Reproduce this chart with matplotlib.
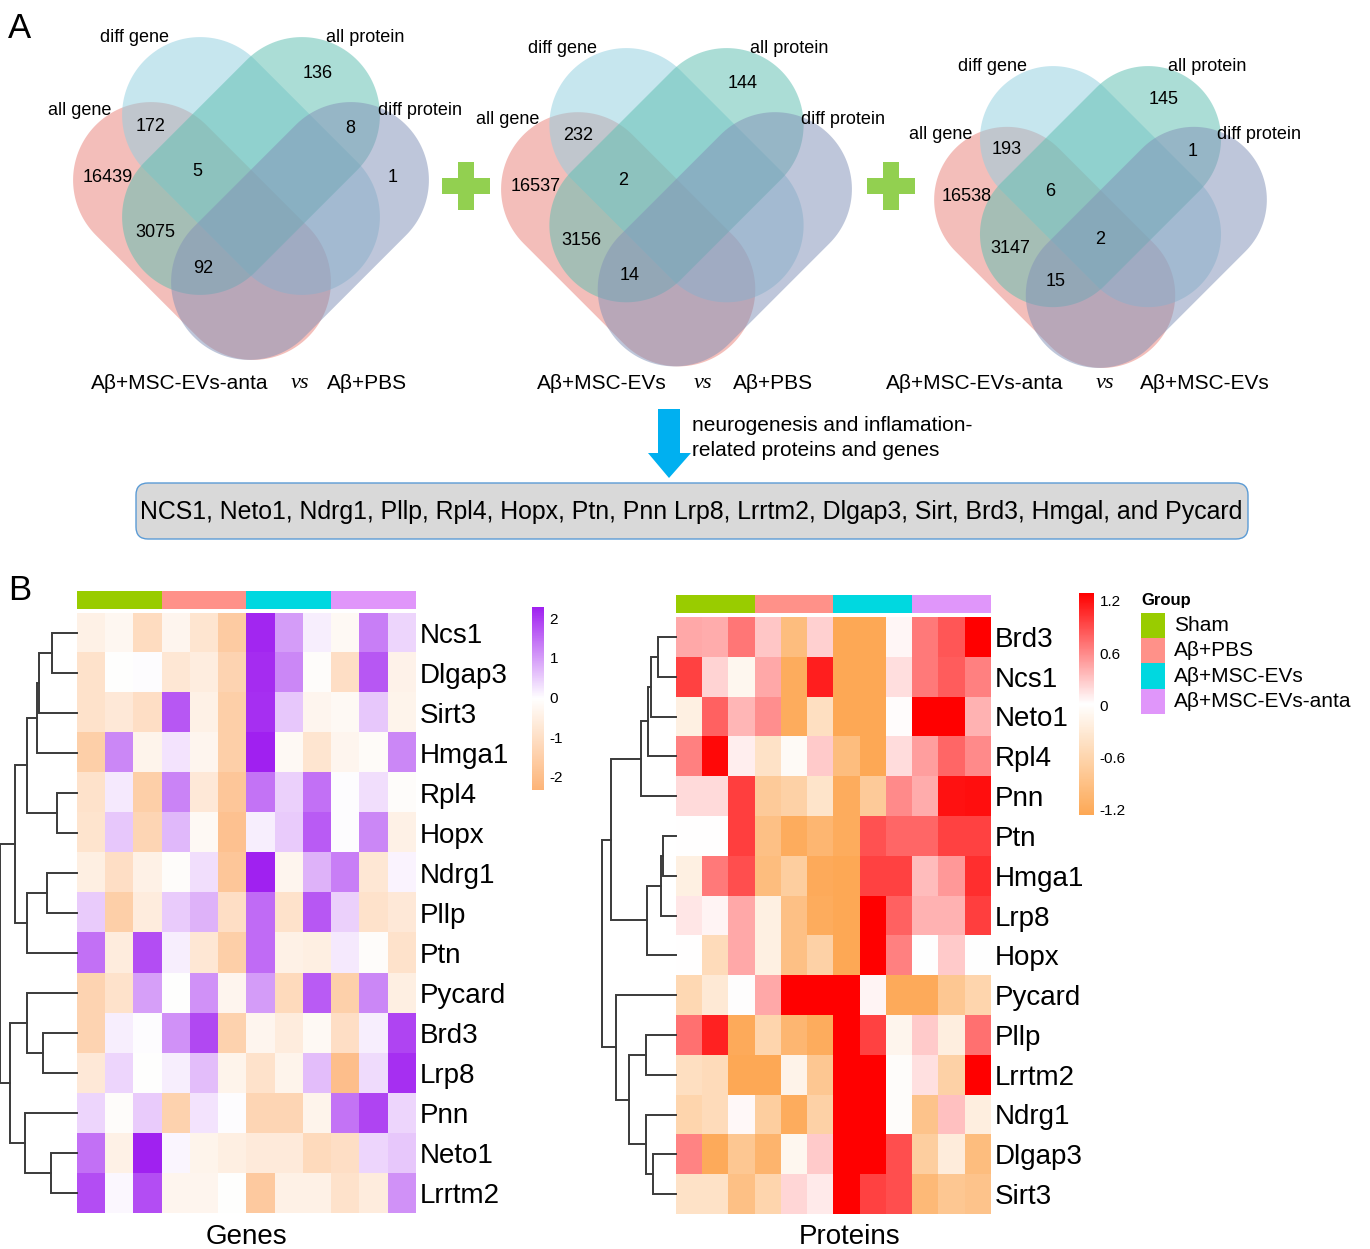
import numpy as np
import matplotlib
matplotlib.use("Agg")
import matplotlib.pyplot as plt
from matplotlib.patches import Polygon, Rectangle, FancyBboxPatch
from matplotlib.colors import LinearSegmentedColormap, ListedColormap, Normalize
from matplotlib.cm import ScalarMappable

plt.rcParams['font.family'] = ['Liberation Sans', 'DejaVu Sans']
plt.rcParams['axes.unicode_minus'] = False

# ---- data ----
set_names = ["all gene", "diff gene", "all protein", "diff protein"]
venn_left = ["Aβ+MSC-EVs-anta", "Aβ+MSC-EVs", "Aβ+MSC-EVs-anta"]
venn_right = ["Aβ+PBS", "Aβ+PBS", "Aβ+MSC-EVs"]
# region keys: A=all gene, B=diff gene, C=all protein, D=diff protein
venn1_counts = {"A": 16439, "AB": 172, "C": 136, "CD": 8, "D": 1,
                "ABC": 5, "AC": 3075, "ACD": 92}
venn2_counts = {"A": 16537, "AB": 232, "C": 144, "ABC": 2,
                "AC": 3156, "ACD": 14}
venn3_counts = {"A": 16538, "AB": 193, "C": 145, "CD": 1, "ABC": 6,
                "ABCD": 2, "AC": 3147, "ACD": 15}

arrow_note = "neurogenesis and inflamation-\nrelated proteins and genes"
gene_list = ("NCS1, Neto1, Ndrg1, Pllp, Rpl4, Hopx, Ptn, Pnn Lrp8, Lrrtm2, "
             "Dlgap3, Sirt, Brd3, Hmgal, and Pycard")

groups = ["Sham", "Aβ+PBS", "Aβ+MSC-EVs", "Aβ+MSC-EVs-anta"]
sample_group = [0, 0, 0, 1, 1, 1, 2, 2, 2, 3, 3, 3]

gene_names = ["Ncs1", "Dlgap3", "Sirt3", "Hmga1", "Rpl4", "Hopx", "Ndrg1", "Pllp",
              "Ptn", "Pycard", "Brd3", "Lrp8", "Pnn", "Neto1", "Lrrtm2"]
gene_vals = [
    [-0.45, -0.25, -1.1, -0.3, -0.8, -1.6, 2.2, 1.0, 0.15, -0.2, 1.3, 0.4],
    [-0.9, -0.05, 0.0, -0.75, -0.55, -1.35, 2.15, 1.2, -0.1, -1.0, 1.7, -0.4],
    [-0.9, -0.7, -1.0, 1.7, -0.45, -1.5, 2.1, 0.55, -0.3, -0.2, 0.55, -0.35],
    [-1.5, 1.2, -0.35, 0.25, -0.3, -1.5, 2.28, -0.2, -0.8, -0.3, -0.15, 1.2],
    [-0.9, 0.2, -1.5, 1.25, -0.7, -1.75, 1.4, 0.45, 1.45, 0.0, 0.3, -0.1],
    [-0.85, 0.55, -1.3, 0.7, -0.2, -1.9, 0.15, 0.5, 1.65, 0.0, 1.2, -0.45],
    [-0.5, -1.0, -0.45, -0.1, 0.3, -1.75, 2.25, -0.3, 0.75, 1.3, -0.75, 0.1],
    [0.5, -1.5, -0.6, 0.5, 0.75, -1.0, 1.5, -0.9, 1.7, 0.45, -0.9, -0.7],
    [1.45, -0.6, 1.8, 0.15, -0.75, -1.5, 1.5, -0.45, -0.5, 0.2, -0.1, -0.9],
    [-1.35, -0.9, 0.95, -0.05, 1.1, -0.3, 1.0, -1.15, 1.65, -1.45, 1.2, -0.5],
    [-1.35, 0.15, 0.0, 1.1, 1.85, -1.4, -0.3, -0.6, -0.2, -1.0, 0.15, 1.9],
    [-0.7, 0.4, -0.05, 0.15, 0.65, -0.35, -0.9, -0.35, 0.65, -2.0, 0.35, 2.1],
    [0.4, -0.1, 0.5, -1.4, 0.25, 0.0, -1.3, -1.3, -0.35, 1.4, 1.9, 0.4],
    [1.45, -0.45, 2.25, 0.08, -0.35, -0.5, -0.65, -0.65, -1.15, -1.0, 0.4, 0.55],
    [1.8, 0.05, 1.8, -0.3, -0.3, -0.05, -1.65, -0.45, -0.45, -0.9, -0.6, 1.1],
]
# merges: (node, node, height); leaves are rows, new nodes numbered from 15
gene_tree = [(0, 1, 25), (15, 2, 38), (16, 3, 40), (4, 5, 20), (17, 18, 50),
             (6, 7, 30), (20, 8, 50), (19, 21, 62), (10, 11, 34), (9, 23, 50),
             (13, 14, 26), (12, 25, 52), (24, 26, 67), (22, 27, 77)]

prot_names = ["Brd3", "Ncs1", "Neto1", "Rpl4", "Pnn", "Ptn", "Hmga1", "Lrp8",
              "Hopx", "Pycard", "Pllp", "Lrrtm2", "Ndrg1", "Dlgap3", "Sirt3"]
prot_vals = [
    [0.45, 0.43, 0.7, 0.3, -0.95, 0.25, -1.26, -1.26, 0.06, 0.68, 0.86, 1.3],
    [0.96, 0.23, -0.1, 0.45, -1.2, 1.14, -1.26, -1.26, 0.18, 0.68, 0.83, 0.65],
    [-0.2, 0.8, 0.38, 0.58, -1.2, -0.45, -1.26, -1.26, 0.03, 1.3, 1.3, 0.4],
    [0.65, 1.25, 0.1, -0.4, -0.05, 0.28, -0.95, -1.26, 0.19, 0.5, 0.78, 0.6],
    [0.2, 0.2, 0.98, -0.75, -0.65, -0.38, -1.2, -0.75, 0.6, 0.43, 1.2, 1.22],
    [0.02, 0.02, 0.98, -0.9, -1.2, -1.05, -1.2, 0.88, 0.78, 0.78, 0.96, 0.96],
    [-0.2, 0.68, 0.9, -0.95, -0.7, -1.22, -1.26, 0.96, 0.96, 0.35, 0.53, 1.06],
    [0.14, 0.07, 0.45, -0.2, -0.9, -1.2, -1.26, 1.3, 0.8, 0.4, 0.4, 0.98],
    [0.02, -0.5, 0.45, -0.2, -0.9, -0.65, -1.26, 1.3, 0.65, 0.01, 0.28, 0.01],
    [-0.55, -0.3, 0.0, 0.45, 1.3, 1.3, 1.3, 0.07, -1.22, -1.22, -0.8, -0.6],
    [0.73, 1.12, -1.22, -0.6, -1.05, -1.2, 1.3, 0.96, -0.12, 0.28, -0.22, 0.73],
    [-0.45, -0.5, -1.26, -1.26, -0.15, -0.8, 1.3, 1.3, -0.02, 0.17, -0.65, 1.3],
    [-0.6, -0.5, 0.05, -0.7, -1.2, -0.65, 1.3, 1.3, -0.02, -0.85, 0.33, -0.22],
    [0.63, -1.22, -0.8, -1.08, -0.1, 0.28, 1.3, 1.3, 0.9, -0.7, -0.25, -0.95],
    [-0.4, -0.4, -0.9, -0.6, 0.22, 0.12, 1.3, 0.96, 0.9, -1.0, -0.8, -0.85],
]
prot_tree = [(0, 1, 18), (15, 2, 25), (16, 3, 28), (17, 4, 35), (5, 6, 13),
             (19, 7, 15), (20, 8, 29), (18, 21, 65), (10, 11, 30), (13, 14, 23),
             (12, 24, 30), (23, 25, 47), (9, 26, 60), (22, 27, 74)]

# ---- layout / style ----
W, H = 1370, 1249
fig = plt.figure(figsize=(W / 100, H / 100), dpi=100)
over = fig.add_axes([0, 0, 1, 1])
over.set_xlim(0, W)
over.set_ylim(H, 0)
over.axis('off')


def px_axes(x0, y0, x1, y1):
    return fig.add_axes([x0 / W, 1 - y1 / H, (x1 - x0) / W, (y1 - y0) / H])


def stadium(cx, cy, ang, d, r, n=80):
    t1 = np.linspace(-np.pi / 2, np.pi / 2, n)
    t2 = np.linspace(np.pi / 2, 3 * np.pi / 2, n)
    x = np.concatenate([d + r * np.cos(t1), -d + r * np.cos(t2)])
    y = np.concatenate([r * np.sin(t1), r * np.sin(t2)])
    c, s = np.cos(ang), np.sin(ang)
    return np.column_stack([cx + x * c - y * s, cy + x * s + y * c])


# shapes: (dx, dy, angle, colour) relative to diagram centre/top, scale 1
shapes = [(-49, 194, np.pi / 4, "#E8837B"),    # all gene
          (0, 129, np.pi / 4, "#92CFE0"),      # diff gene
          (0, 129, -np.pi / 4, "#5FBFB2"),     # all protein
          (49, 194, -np.pi / 4, "#8393B8")]    # diff protein
label_pos = [(-171, 73), (-116, 0), (114, 0), (169, 73)]
region_pos = {"C": (67, 36), "AB": (-100, 89), "CD": (99, 91), "A": (-143, 140),
              "ABC": (-54, 134), "D": (142, 140), "AC": (-96, 195),
              "ACD": (-48, 231), "ABCD": (0, 186)}
venn_place = [(251, 37, 1.0), (676.5, 48, 0.986), (1100.5, 66, 0.935)]
title_x = [(180, 300, 367), (602, 703, 773), (975, 1105, 1205)]

for (cx, top, sc), counts, lt, rt, tx in zip(
        venn_place, [venn1_counts, venn2_counts, venn3_counts],
        venn_left, venn_right, title_x):
    for dx, dy, ang, col in shapes:
        pts = stadium(cx + dx * sc, top + dy * sc, ang, 72 * sc, 78 * sc)
        over.add_patch(Polygon(pts, closed=True, facecolor=col, edgecolor='none',
                               alpha=0.52))
    for name, (lx, ly) in zip(set_names, label_pos):
        over.text(cx + lx * sc, top + ly * sc, name, fontsize=13,
                  ha='center', va='center')
    for key, val in counts.items():
        rx, ry = region_pos[key]
        over.text(cx + rx * sc, top + ry * sc, str(val), fontsize=13,
                  ha='center', va='center')
    over.text(tx[0], 383, lt, fontsize=15, ha='center', va='center')
    over.text(tx[1], 383, "vs", fontsize=16, ha='center', va='center',
              family='Liberation Serif', style='italic')
    over.text(tx[2], 383, rt, fontsize=15, ha='center', va='center')

# green plus signs
for px in (466, 891):
    over.add_patch(Rectangle((px - 24, 178), 48, 16, color='#92D050', lw=0))
    over.add_patch(Rectangle((px - 8, 162), 16, 48, color='#92D050', lw=0))

# blue arrow and note
arrow = [(658, 409), (680, 409), (680, 453), (691, 453), (669, 478),
         (648, 453), (658, 453)]
over.add_patch(Polygon(arrow, closed=True, color='#00B0F0', lw=0))
over.text(692, 438, arrow_note, fontsize=15, ha='left', va='center',
          linespacing=1.42)

box = FancyBboxPatch((136, 483), 1112, 56, boxstyle="round,pad=0,rounding_size=12",
                     facecolor='#D9D9D9', edgecolor='#5B9BD5', lw=1.0)
over.add_patch(box)
over.text(691, 512, gene_list, fontsize=17.9, ha='center', va='center')

over.text(8, 38, "A", fontsize=25, ha='left', va='baseline')
over.text(8, 600, "B", fontsize=25, ha='left', va='baseline')

# ---- heatmaps ----
group_colors = ['#99CC00', '#FF9189', '#00D8E0', '#E096FA']
gcmap = LinearSegmentedColormap.from_list('g', ['#FDB478', '#FFFFFF', '#A020F0'])
gnorm = Normalize(-2.33, 2.28)
pcmap = LinearSegmentedColormap.from_list('p', ['#FDA855', '#FFFFFF', '#FF0000'])
pnorm = Normalize(-1.26, 1.29)


def draw_dendro(ax, n, merges, xmax):
    pos = {i: (float(i), 0.0) for i in range(n)}
    for k, (a, b, h) in enumerate(merges):
        ya, ha = pos[a]
        yb, hb = pos[b]
        ax.plot([ha, h, h, hb], [ya, ya, yb, yb], color='#3a3a3a', lw=1.4,
                clip_on=False, solid_joinstyle='miter')
        pos[n + k] = ((ya + yb) / 2, h)
    ax.set_xlim(xmax, 0)
    ax.set_ylim(n - 0.5, -0.5)
    ax.axis('off')


def draw_heat(box, bar_box, dendro_box, vals, names, cmap, norm, tree, dmax):
    ax = px_axes(*box)
    ax.imshow(np.array(vals), cmap=cmap, norm=norm, aspect='auto',
              interpolation='nearest')
    ax.set_xticks([])
    ax.set_yticks(range(len(names)))
    ax.set_yticklabels(names, fontsize=20)
    ax.yaxis.tick_right()
    ax.tick_params(length=0, pad=3)
    for s in ax.spines.values():
        s.set_visible(False)
    bx = px_axes(*bar_box)
    bx.imshow([sample_group], cmap=ListedColormap(group_colors), aspect='auto',
              interpolation='nearest', vmin=-0.5, vmax=3.5)
    bx.axis('off')
    dx = px_axes(*dendro_box)
    draw_dendro(dx, len(names), tree, dmax)


draw_heat((76.5, 612.5, 415.5, 1213.5), (76.5, 591, 415.5, 609),
          (0, 612.5, 76.5, 1213.5), gene_vals, gene_names, gcmap, gnorm,
          gene_tree, 77)
draw_heat((676, 617, 991, 1214), (676, 595, 991, 613),
          (590, 617, 676, 1214), prot_vals, prot_names, pcmap, pnorm,
          prot_tree, 86)

over.text(246, 1244, "Genes", fontsize=20, ha='center', va='baseline')
over.text(850, 1244, "Proteins", fontsize=20, ha='center', va='baseline')


def draw_cbar(box, cmap, norm, ticks, labels):
    cax = px_axes(*box)
    cb = fig.colorbar(ScalarMappable(norm=norm, cmap=cmap), cax=cax, ticks=ticks)
    cb.outline.set_visible(False)
    cb.set_ticklabels(labels)
    cax.tick_params(length=0, labelsize=11, pad=4)


draw_cbar((532, 607, 544, 790), gcmap, gnorm, [-2, -1, 0, 1, 2],
          ["-2", "-1", "0", "1", "2"])
draw_cbar((1079, 593, 1094, 815), pcmap, pnorm, [-1.2, -0.6, 0, 0.6, 1.2],
          ["-1.2", "-0.6", "0", "0.6", "1.2"])

# group legend
over.text(1141, 600, "Group", fontsize=12, fontweight='bold', ha='left',
          va='center')
for i, (g, c) in enumerate(zip(groups, group_colors)):
    y0 = 613 + i * 25.2
    over.add_patch(Rectangle((1141, y0), 24, 25.2, color=c, lw=0))
    over.text(1174, y0 + 12.6, g, fontsize=15, ha='left', va='center')

fig.savefig("out.png", dpi=100)
